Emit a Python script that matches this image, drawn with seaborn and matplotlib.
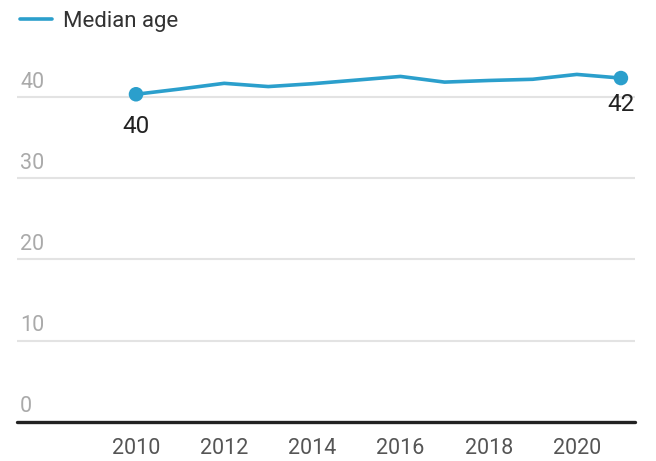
import matplotlib
matplotlib.use("Agg")
import matplotlib.pyplot as plt
import matplotlib.transforms as mtransforms
from matplotlib.lines import Line2D
import pandas as pd
import seaborn as sns

years = [2010, 2011, 2012, 2013, 2014, 2015, 2016, 2017, 2018, 2019, 2020, 2021]
median_age = [40.4, 41.05, 41.75, 41.35, 41.7, 42.15, 42.6, 41.9, 42.1, 42.25, 42.85, 42.4]
y_ticks = [0, 10, 20, 30, 40]
x_ticks = [2010, 2012, 2014, 2016, 2018, 2020]
series_name = "Median age"

LINE_COLOR = "#2b9fcc"

sns.set_theme(style="white")
plt.rcParams["font.family"] = ["Roboto", "DejaVu Sans"]

df = pd.DataFrame({"year": years, "age": median_age})

W, H = 656, 461
fig = plt.figure(figsize=(W / 100, H / 100), dpi=100)
left, right = 17, 635
y0_px, top_px = 421.5, 57
ax = fig.add_axes([left / W, (H - y0_px) / H, (right - left) / W, (y0_px - top_px) / H])

ax.set_xlim(2007.3, 2021.32)
ax.set_ylim(0, 45)

# horizontal gridlines
for t in y_ticks[1:]:
    ax.axhline(t, color="#e3e3e3", lw=1.5, zorder=0)
ax.axhline(0, color="#222222", lw=2.4, zorder=3, clip_on=False)

sns.lineplot(data=df, x="year", y="age", color=LINE_COLOR, lw=2.6, ax=ax,
             legend=False, zorder=4)
ends = df.iloc[[0, -1]]
sns.scatterplot(data=ends, x="year", y="age", color=LINE_COLOR, s=110,
                edgecolor="none", ax=ax, legend=False, zorder=5)

# end-point value labels
ax.annotate(f"{round(median_age[0])}", (years[0], median_age[0]),
            xytext=(0, -15), textcoords="offset points", ha="center", va="top",
            fontsize=17.5, color="#222222")
ax.annotate(f"{round(median_age[-1])}", (years[-1], median_age[-1]),
            xytext=(0, -11), textcoords="offset points", ha="center", va="top",
            fontsize=17.5, color="#222222")

# y labels sit above their gridlines at the left edge
trans = mtransforms.blended_transform_factory(ax.transAxes, ax.transData)
for t in y_ticks:
    ax.annotate(str(t), (0.005, t), xycoords=trans, xytext=(0, 3),
                textcoords="offset points", ha="left", va="bottom",
                fontsize=15.5, color="#aaaaaa")

ax.set_yticks([])
ax.set_xticks(x_ticks)
ax.set_xticklabels([str(x) for x in x_ticks], fontsize=15.5, color="#555555")
ax.tick_params(axis="x", length=0, pad=12)
ax.set_xlabel("")
ax.set_ylabel("")
for s in ax.spines.values():
    s.set_visible(False)
ax.patch.set_alpha(0)

handle = Line2D([], [], color=LINE_COLOR, lw=2.6)
fig.legend([handle], [series_name], loc="upper left",
           bbox_to_anchor=(20 / W, 1 - 11 / H), frameon=False, fontsize=16,
           handlelength=1.45, handletextpad=0.5, borderpad=0, borderaxespad=0,
           labelcolor="#333333")

fig.savefig("out.png", dpi=100)
